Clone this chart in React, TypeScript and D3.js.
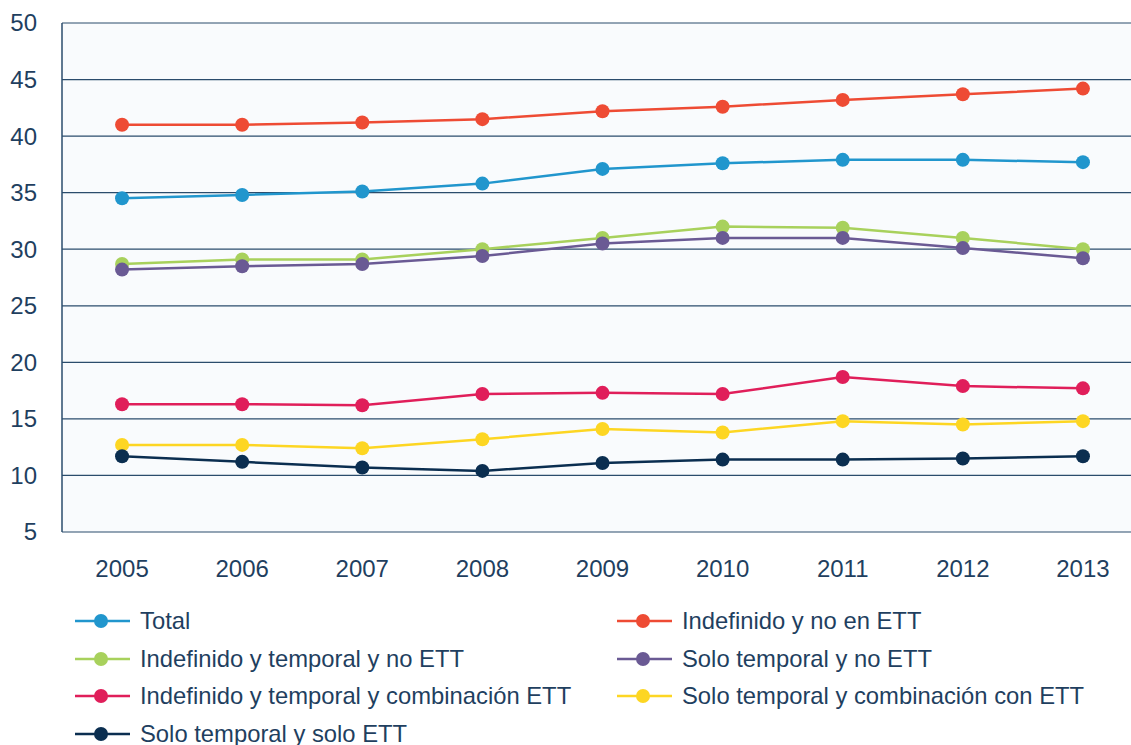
import React from "react";
import * as d3 from "d3";

const years = ["2005", "2006", "2007", "2008", "2009", "2010", "2011", "2012", "2013"];
const yTicks = [5, 10, 15, 20, 25, 30, 35, 40, 45, 50];

const seriesNames = [
  "Total",
  "Indefinido y no en ETT",
  "Indefinido y temporal y no ETT",
  "Solo temporal y no ETT",
  "Indefinido y temporal y combinación ETT",
  "Solo temporal y combinación con ETT",
  "Solo temporal y solo ETT",
];
const seriesColors = ["#2196cd", "#ee4b34", "#a8d15c", "#6a5a94", "#e01e5a", "#fdd623", "#0b2e50"];

const total = [34.5, 34.8, 35.1, 35.8, 37.1, 37.6, 37.9, 37.9, 37.7];
const indefNoEtt = [41.0, 41.0, 41.2, 41.5, 42.2, 42.6, 43.2, 43.7, 44.2];
const indefTempNoEtt = [28.7, 29.1, 29.1, 30.0, 31.0, 32.0, 31.9, 31.0, 30.0];
const soloTempNoEtt = [28.2, 28.5, 28.7, 29.4, 30.5, 31.0, 31.0, 30.1, 29.2];
const indefTempCombEtt = [16.3, 16.3, 16.2, 17.2, 17.3, 17.2, 18.7, 17.9, 17.7];
const soloTempCombEtt = [12.7, 12.7, 12.4, 13.2, 14.1, 13.8, 14.8, 14.5, 14.8];
const soloTempSoloEtt = [11.7, 11.2, 10.7, 10.4, 11.1, 11.4, 11.4, 11.5, 11.7];

const seriesValues = [total, indefNoEtt, indefTempNoEtt, soloTempNoEtt, indefTempCombEtt, soloTempCombEtt, soloTempSoloEtt];

const W = 1131;
const H = 745;
const plotLeft = 62;
const plotRight = 1143;
const plotTop = 23;
const plotBottom = 532;
const textColor = "#1f3f5f";
const font = "'Liberation Sans', Arial, sans-serif";

export default function App() {
  const x = d3.scaleBand<string>().domain(years).range([plotLeft, plotRight]).paddingInner(0).paddingOuter(0);
  const y = d3.scaleLinear().domain([5, 50]).range([plotBottom, plotTop]);
  const cx = (yr: string) => (x(yr) as number) + x.bandwidth() / 2;
  const line = d3
    .line<number>()
    .x((_, i) => cx(years[i]))
    .y((d) => y(d));

  const legendCols = [75, 617];
  const legendRows = [621, 659, 696, 734];

  return (
    <svg width={W} height={H} style={{ position: "absolute", left: 0, top: 0, fontFamily: font }}>
      <rect x={plotLeft} y={plotTop} width={plotRight - plotLeft} height={plotBottom - plotTop} fill="#f9fbfd" />
      {yTicks.map((t) => (
        <g key={t}>
          <line x1={plotLeft} x2={plotRight} y1={y(t)} y2={y(t)} stroke="#2b4c6c" strokeWidth={1.2} />
          <text x={37} y={y(t)} dy="0.35em" textAnchor="end" fontSize={24} fill={textColor}>
            {t}
          </text>
        </g>
      ))}
      <line x1={plotLeft} x2={plotLeft} y1={plotTop} y2={plotBottom} stroke="#2b4c6c" strokeWidth={1.5} />
      {years.map((yr) => (
        <text key={yr} x={cx(yr)} y={569} dy="0.35em" textAnchor="middle" fontSize={24} fill={textColor}>
          {yr}
        </text>
      ))}
      {seriesValues.map((vals, si) => (
        <g key={si}>
          <path d={line(vals) || ""} fill="none" stroke={seriesColors[si]} strokeWidth={2.5} />
          {vals.map((v, i) => (
            <circle key={i} cx={cx(years[i])} cy={y(v)} r={7} fill={seriesColors[si]} />
          ))}
        </g>
      ))}
      {seriesNames.map((name, si) => {
        const col = si % 2;
        const row = Math.floor(si / 2);
        const lx = legendCols[col];
        const ly = legendRows[row];
        return (
          <g key={name}>
            <line x1={lx} x2={lx + 55} y1={ly} y2={ly} stroke={seriesColors[si]} strokeWidth={2.5} />
            <circle cx={lx + 26} cy={ly} r={7} fill={seriesColors[si]} />
            <text x={lx + 65} y={ly} dy="0.35em" fontSize={23.8} fill={textColor}>
              {name}
            </text>
          </g>
        );
      })}
    </svg>
  );
}
